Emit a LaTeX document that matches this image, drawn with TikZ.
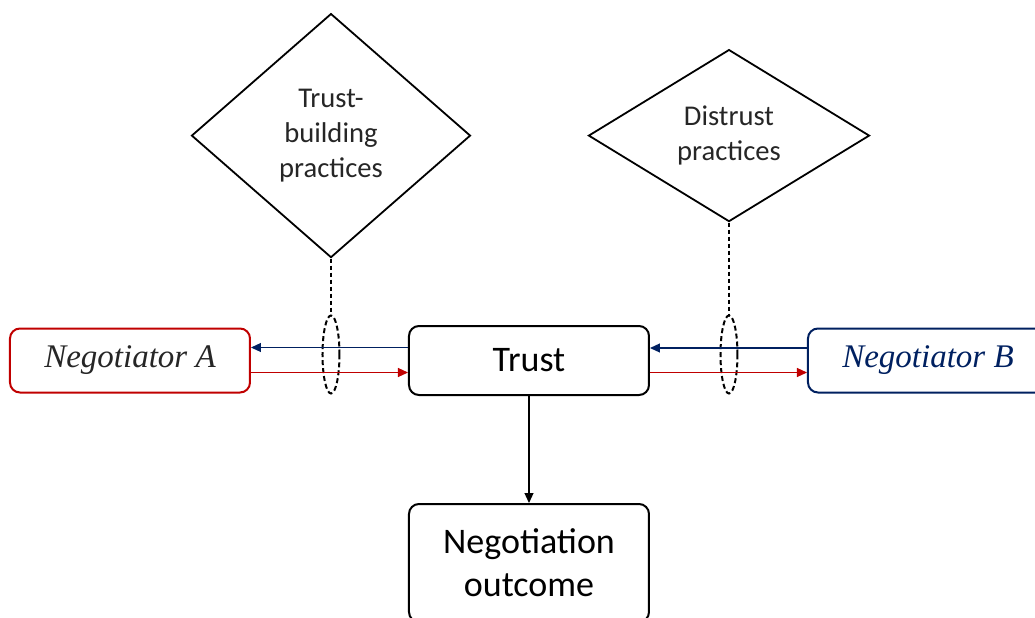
\documentclass[tikz,border=0pt]{standalone}
\usepackage{fontspec}
\setmainfont{Carlito}
\newfontfamily\timesfont{Liberation Serif}
\usetikzlibrary{shapes.geometric, arrows.meta, positioning, calc}
\definecolor{negred}{HTML}{C00000}
\definecolor{negblue}{HTML}{002060}

\begin{document}
\begin{tikzpicture}[
    box/.style={
        rectangle,
        draw=black,
        rounded corners=5pt,
        minimum width=120pt,
        minimum height=34.5pt,
        align=center,
        line width=1pt,
        font=\fontsize{18}{21.5}\selectfont
    },
    party/.style={
        rectangle,
        rounded corners=5pt,
        minimum width=120pt,
        minimum height=32pt,
        line width=1pt,
        font=\timesfont\itshape\fontsize{16.5}{20}\selectfont
    },
    practice/.style={
        diamond,
        draw=black,
        inner sep=0pt,
        align=center,
        line width=0.9pt,
        text=black!85,
        font=\fontsize{14.3}{17.5}\selectfont
    },
    link/.style={
        ellipse,
        draw=black,
        inner sep=0pt,
        minimum width=8.5pt,
        minimum height=39pt,
        line width=1pt,
        dash pattern=on 2.5pt off 1.5pt
    },
    arrow/.style={
        -{Triangle[length=5pt, width=4.5pt]},
        line width=0.6pt
    },
    tie/.style={
        line width=0.6pt,
        dash pattern=on 2pt off 1.5pt
    }
]

\useasboundingbox (-264.5pt,-128.25pt) rectangle (253pt,180.25pt);

\node[box] (trust) at (0,0) {Trust};

\node[party, draw=negred, text=black!85, left=78.5pt of trust] (negA) {Negotiator A};
\node[party, draw=negblue, text=negblue, right=78.5pt of trust] (negB) {Negotiator B};

\node[box, minimum height=59pt, below=53.5pt of trust] (outcome) {Negotiation\\outcome};

\node[link] (linkA) at ($(negA.east)!0.5!(trust.west)+(0.75pt,3pt)$) {};
\node[link] (linkB) at ($(trust.east)!0.5!(negB.west)+(0.25pt,3pt)$) {};

\node[practice, minimum width=139.5pt, minimum height=122pt, above=28pt of linkA] (building) {Trust-\\building\\practices};
\node[practice, shape aspect=1.6, minimum width=140.5pt, minimum height=86pt, above=46pt of linkB] (distrust) {Distrust\\practices};

\draw[arrow, negblue] ([yshift=6.5pt]trust.west) -- ([yshift=6.5pt]negA.east);
\draw[arrow, negred] ([yshift=-6pt]negA.east) -- ([yshift=-6pt]trust.west);
\draw[arrow, negblue] ([yshift=6.25pt]negB.west) -- ([yshift=6.25pt]trust.east);
\draw[arrow, negred] ([yshift=-6pt]trust.east) -- ([yshift=-6pt]negB.west);
\draw[arrow] (trust) -- (outcome);
\draw[tie] (building.south) -- (linkA.north);
\draw[tie] (distrust.south) -- (linkB.north);

\end{tikzpicture}
\end{document}
